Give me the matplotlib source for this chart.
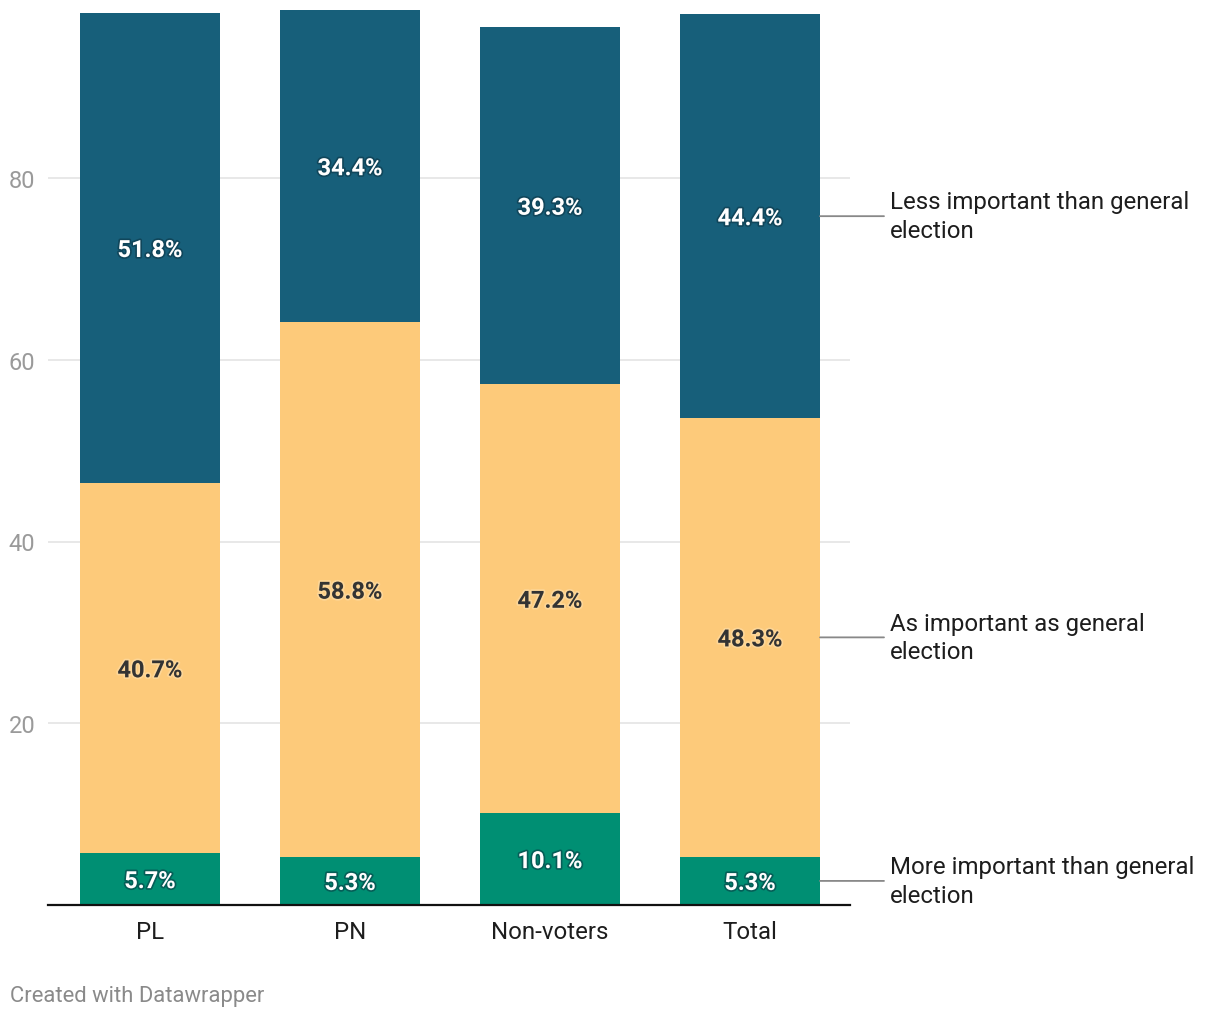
import matplotlib

matplotlib.use("Agg")
import matplotlib.pyplot as plt
import matplotlib.patheffects as pe
import numpy as np

plt.rcParams["font.family"] = ["Roboto", "DejaVu Sans"]

# Daten
groups = ["PL", "PN", "Non-voters", "Total"]
more_important = [5.7, 5.3, 10.1, 5.3]
as_important = [40.7, 58.8, 47.2, 48.3]
less_important = [51.8, 34.4, 39.3, 44.4]
series_names = [
    "More important than general\nelection",
    "As important as general\nelection",
    "Less important than general\nelection",
]
y_ticks = [20, 40, 60, 80]

_GREEN = "#008f73"
_YELLOW = "#fdca7a"
_BLUE = "#175f7a"
_TEXT = "#1d1d1d"
_TICK = "#9a9a9a"
_GRID = "#e4e4e4"

W, H = 1220, 1020
fig = plt.figure(figsize=(W / 100, H / 100), dpi=100, facecolor="white")
ax = fig.add_axes([48 / W, (H - 906) / H, (850 - 48) / W, 906 / H])

x = np.arange(len(groups))
series = [more_important, as_important, less_important]
colors = [_GREEN, _YELLOW, _BLUE]
bottom = np.zeros(len(groups))
for vals, col in zip(series, colors):
    vals = np.array(vals)
    ax.bar(x, vals, bottom=bottom, width=0.7, color=col, edgecolor="none", zorder=2)
    dark = col != _YELLOW
    for xi, b, v in zip(x, bottom, vals):
        ax.text(
            xi,
            b + v / 2,
            f"{v:.1f}%",
            ha="center",
            va="center_baseline",
            fontsize=17,
            fontweight="bold",
            color="white" if dark else "#333333",
            zorder=3,
            path_effects=[
                pe.withStroke(
                    linewidth=2.5,
                    foreground="#0b2f3d" if dark else "#fde2b4",
                    alpha=0.5,
                )
            ],
        )
    bottom = bottom + vals

ax.set_xlim(-0.51, 3.5)
ax.set_ylim(0, 906 / 9.0875)

for spine in ("top", "right", "left"):
    ax.spines[spine].set_visible(False)
ax.spines["bottom"].set_color("#111111")
ax.spines["bottom"].set_linewidth(1.6)
ax.spines["bottom"].set_zorder(4)

ax.set_yticks(y_ticks)
ax.set_yticklabels([str(t) for t in y_ticks])
ax.tick_params(axis="y", length=0, pad=9, colors=_TICK, labelsize=17)
ax.grid(True, axis="y", color=_GRID, linewidth=1.2, zorder=0)
ax.set_axisbelow(True)

ax.set_xticks(x)
ax.set_xticklabels(groups)
ax.tick_params(axis="x", length=0, pad=11, colors=_TEXT, labelsize=17.3)

# Serienbeschriftung rechts neben "Total"
cum = np.zeros(len(groups))
for name, vals in zip(series_names, series):
    vals = np.array(vals)
    ymid = cum[-1] + vals[-1] / 2
    ax.annotate(
        "",
        xy=(3.35, ymid),
        xytext=(3.67, ymid),
        annotation_clip=False,
        arrowprops=dict(arrowstyle="-", color="#888888", lw=1.3, shrinkA=0, shrinkB=0),
    )
    ax.text(
        3.7,
        ymid,
        name,
        ha="left",
        va="center",
        fontsize=17.3,
        color=_TEXT,
        linespacing=1.3,
        clip_on=False,
    )
    cum = cum + vals

fig.text(10 / W, 1 - 997 / H, "Created with Datawrapper", ha="left", va="center",
         fontsize=15.8, color="#8a8a8a")

fig.savefig("out.png", dpi=100, facecolor="white")
